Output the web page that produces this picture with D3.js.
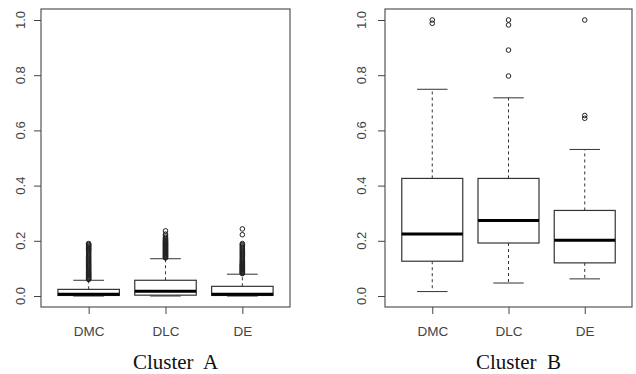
<!DOCTYPE html>
<html>
<head>
<meta charset="utf-8">
<script src="https://cdn.jsdelivr.net/npm/d3@7"></script>
<style>
  body { margin: 0; background: #fff; }
  .tick-label { font-family: "Liberation Sans", Arial, sans-serif; font-size: 13px; fill: #444; }
  .x-label { font-size: 13.5px; }
  .title { font-family: "Liberation Serif", "Times New Roman", serif; font-size: 21px; fill: #111; }
</style>
</head>
<body>
<div id="vis-container"></div>
<script>
// Categories and tick labels
var categories = ["DMC", "DLC", "DE"];
var yTicks = [0.0, 0.2, 0.4, 0.6, 0.8, 1.0];

// Box statistics per category: [lower whisker, Q1, median, Q3, upper whisker]
var statsA = [
    [0.000, 0.002, 0.006, 0.024, 0.057],
    [0.000, 0.003, 0.017, 0.057, 0.135],
    [0.000, 0.002, 0.006, 0.035, 0.079]
];
var statsB = [
    [0.016, 0.126, 0.225, 0.426, 0.749],
    [0.047, 0.192, 0.274, 0.426, 0.718],
    [0.062, 0.120, 0.202, 0.310, 0.531]
];

// Outliers (the Cluster A columns are very dense)
var outliersA_DMC = [0.060, 0.062, 0.064, 0.067, 0.069, 0.072, 0.074, 0.077, 0.080, 0.082, 0.085, 0.088,
    0.091, 0.094, 0.097, 0.100, 0.104, 0.107, 0.110, 0.114, 0.117, 0.121, 0.125, 0.128, 0.132, 0.136,
    0.140, 0.144, 0.148, 0.152, 0.156, 0.160, 0.163, 0.166, 0.169, 0.172, 0.175, 0.178, 0.181, 0.184, 0.187, 0.190];
var outliersA_DLC = [0.138, 0.140, 0.142, 0.144, 0.146, 0.148, 0.150, 0.152, 0.154, 0.156, 0.158, 0.160,
    0.162, 0.164, 0.166, 0.168, 0.170, 0.172, 0.174, 0.176, 0.178, 0.180, 0.182, 0.184, 0.186, 0.188,
    0.190, 0.192, 0.194, 0.196, 0.198, 0.200, 0.203, 0.206, 0.209, 0.213, 0.218, 0.224, 0.236];
var outliersA_DE = [0.081, 0.083, 0.085, 0.087, 0.089, 0.091, 0.093, 0.095, 0.097, 0.099, 0.101, 0.103,
    0.105, 0.107, 0.109, 0.111, 0.113, 0.115, 0.118, 0.121, 0.124, 0.128, 0.131, 0.134, 0.138, 0.142,
    0.146, 0.150, 0.154, 0.158, 0.162, 0.166, 0.170, 0.174, 0.178, 0.182, 0.186, 0.190, 0.222, 0.243];
var outliersB_DMC = [0.988, 1.000];
var outliersB_DLC = [0.797, 0.891, 0.982, 1.000];
var outliersB_DE = [0.644, 0.654, 1.000];

var width = 636;
var height = 374;

var svg = d3.select("#vis-container").append("svg")
    .attr("width", width)
    .attr("height", height);

// Plot region shared by both panels (vertical)
var frameTop = 9;
var frameBottom = 307;
var y = d3.scaleLinear().domain([0, 1]).range([296, 20]);

function drawPanel(left, right, stats, outliers, title, labelX) {
    var g = svg.append("g");
    var x = d3.scaleLinear().domain([0.38, 3.62]).range([left, right]);
    var unit = x(1) - x(0);

    // Frame
    g.append("rect")
        .attr("x", left).attr("y", frameTop)
        .attr("width", right - left).attr("height", frameBottom - frameTop)
        .attr("fill", "none").attr("stroke", "#555").attr("stroke-width", 1.2);

    // Y axis
    var yAxis = g.append("g")
        .attr("transform", "translate(" + left + ",0)")
        .call(d3.axisLeft(y).tickValues(yTicks).tickSize(7).tickFormat(d3.format(".1f")));
    yAxis.select(".domain").remove();
    yAxis.selectAll("line").attr("stroke", "#444");
    yAxis.selectAll("text").remove();
    g.selectAll(".ylab").data(yTicks).enter().append("text")
        .attr("class", "tick-label")
        .attr("text-anchor", "middle")
        .attr("transform", function (d) {
            return "translate(" + labelX + "," + y(d) + ") rotate(-90)";
        })
        .text(d3.format(".1f"));

    // X axis
    var xAxis = g.append("g")
        .attr("transform", "translate(0," + frameBottom + ")")
        .call(d3.axisBottom(x).tickValues([1, 2, 3]).tickSize(7).tickFormat(function (d) {
            return categories[d - 1];
        }));
    xAxis.select(".domain").remove();
    xAxis.selectAll("line").attr("stroke", "#444");
    xAxis.selectAll("text")
        .attr("class", "tick-label x-label")
        .attr("y", 29)
        .attr("dy", null)
        .attr("font-size", null)
        .attr("font-family", null)
        .attr("fill", null);

    stats.forEach(function (s, i) {
        var cx = x(i + 1);
        var bw = 0.8 * unit;
        var cw = 0.4 * unit;
        var bg = g.append("g");
        // whiskers
        bg.append("line").attr("x1", cx).attr("x2", cx).attr("y1", y(s[3])).attr("y2", y(s[4]))
            .attr("stroke", "#333").attr("stroke-dasharray", "3,3");
        bg.append("line").attr("x1", cx).attr("x2", cx).attr("y1", y(s[1])).attr("y2", y(s[0]))
            .attr("stroke", "#333").attr("stroke-dasharray", "3,3");
        // caps
        [s[0], s[4]].forEach(function (v) {
            bg.append("line").attr("x1", cx - cw / 2).attr("x2", cx + cw / 2)
                .attr("y1", y(v)).attr("y2", y(v)).attr("stroke", "#333");
        });
        // box
        bg.append("rect")
            .attr("x", cx - bw / 2).attr("width", bw)
            .attr("y", y(s[3])).attr("height", y(s[1]) - y(s[3]))
            .attr("fill", "#fff").attr("stroke", "#333").attr("stroke-width", 1.2);
        // median
        bg.append("line").attr("x1", cx - bw / 2).attr("x2", cx + bw / 2)
            .attr("y1", y(s[2])).attr("y2", y(s[2]))
            .attr("stroke", "#000").attr("stroke-width", 3);
        // outliers
        bg.selectAll("circle").data(outliers[i]).enter().append("circle")
            .attr("cx", cx).attr("cy", function (d) { return y(d); })
            .attr("r", 2.3)
            .attr("fill", "none").attr("stroke", "#222").attr("stroke-width", 1);
    });

    g.append("text")
        .attr("class", "title")
        .attr("x", (left + right) / 2 + 10)
        .attr("y", 369)
        .attr("text-anchor", "middle")
        .attr("xml:space", "preserve")
        .style("white-space", "pre")
        .text(title);
}

drawPanel(41, 290, statsA, [outliersA_DMC, outliersA_DLC, outliersA_DE], "Cluster  A", 24.5);
drawPanel(385, 632, statsB, [outliersB_DMC, outliersB_DLC, outliersB_DE], "Cluster  B", 366);
</script>
</body>
</html>
